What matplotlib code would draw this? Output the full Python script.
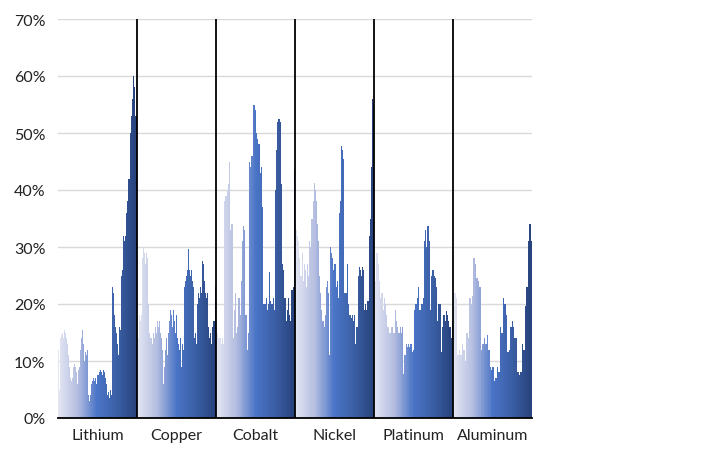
import numpy as np
import matplotlib
matplotlib.use("Agg")
import matplotlib.pyplot as plt
from matplotlib.colors import LinearSegmentedColormap

categories = ["Lithium", "Copper", "Cobalt", "Nickel", "Platinum", "Aluminum"]

lithium = [12, 5, 14, 14.5, 15, 14, 15.5, 15, 14, 13, 11, 9, 7, 6.5, 7, 9, 9.5, 9, 8, 6,
           8.5, 9, 12, 14, 15.5, 13, 10, 11.5, 11, 12, 4, 3, 4, 6, 6.5, 7, 6.5, 7, 6, 7.5,
           8, 8.5, 8, 7.5, 8.5, 8, 7, 6, 4, 4.5, 3.5, 5, 4, 23, 22, 18, 16, 15, 13, 11,
           16, 15.5, 25, 26, 32, 31, 32, 36, 38, 42, 42, 50, 53, 56, 60, 58, 53, 53]
copper = [15, 14, 18, 17, 18, 28, 30, 29, 27, 29, 28, 20, 15, 14, 14, 13, 15, 14, 16, 15,
          17, 16, 17, 15, 14, 12, 6, 9, 12, 14, 11, 15, 17, 19, 18, 16, 19, 17, 15, 18,
          14, 13, 12, 14, 9, 13, 12, 23, 24, 25, 26, 29.6, 26, 25, 26, 24, 23, 14, 15, 13,
          20, 22, 21, 23, 22, 27.5, 27, 24, 22, 21, 22, 16, 14, 15, 13, 16, 17, 17, 23]
cobalt = [18, 15, 14, 14, 13, 14, 13, 38, 39, 40, 41, 45, 33, 34, 14, 19, 22, 15, 16, 21,
          18, 24, 31, 33.6, 33, 18, 12, 15, 45, 44, 46, 55, 55, 54, 50, 49, 48, 43, 44, 37,
          20, 20, 21, 19, 20, 25.6, 20.5, 20, 21, 19, 40, 47, 52, 52.5, 52, 41, 27, 26, 21, 17,
          19, 21, 18, 17, 22.5, 23, 43.6]
nickel = [34, 33, 32, 31, 28, 25, 29, 24, 27, 26, 23, 27, 25, 31, 30, 35, 38, 41.3, 40, 38,
          34, 31, 25, 22, 19, 17, 16, 18, 23, 24, 22, 11, 30, 29, 28, 26, 27, 23, 24, 21,
          36, 38, 47.7, 47, 45.5, 22, 22, 27, 20, 18, 18, 17.5, 18, 17, 18, 13, 16, 25, 26.5, 26,
          25, 26.5, 26, 19, 20, 19, 20.5, 32, 35, 44, 56, 55]
platinum = [23, 24, 29, 27, 24, 21, 22, 19, 21, 20, 18, 16, 15, 15, 16, 16, 15, 19, 17, 16,
            15, 16, 15, 16, 7.7, 11, 13, 12.5, 13, 12.5, 13, 11.5, 12, 19, 20, 21, 23, 19, 19, 20,
            21, 31, 33, 30, 33.7, 31, 19, 25, 26, 25, 24.6, 23, 17, 20, 20, 11.5, 16, 18, 17, 18.7,
            18, 17, 16, 14, 17]
aluminum = [21, 22, 21, 11, 12, 11, 13, 12, 10, 15, 14, 21, 20, 21.4, 28, 27, 24.6, 24, 23, 12,
            13, 14, 13, 14.6, 12, 9, 8.5, 9, 6.5, 7, 9, 8, 16, 15, 21, 20, 18, 11.5, 12, 16,
            17, 16, 14, 14, 8, 7.5, 8, 13, 12, 19.7, 23, 31, 34, 31]

series = [lithium, copper, cobalt, nickel, platinum, aluminum]
yticks = [0, 10, 20, 30, 40, 50, 60, 70]

cmap = LinearSegmentedColormap.from_list(
    "grad", [(0.0, "#e2e5f2"), (0.25, "#b4bde0"), (0.5, "#4a74c6"),
             (0.75, "#3b5fa5"), (1.0, "#27427c")])

fig = plt.figure(figsize=(7.27, 4.56), dpi=100)
ax = fig.add_axes([58/727, 1-419/456, (532-58)/727, (419-20)/456])

font = "Lato"
for g, vals in enumerate(series):
    n = len(vals)
    w = 1.0 / n
    xs = g + (np.arange(n) + 0.5) * w
    cols = [cmap(i / (n - 1)) for i in range(n)]
    ax.bar(xs, vals, width=w * 1.02, color=cols, linewidth=0, zorder=2)

for g in range(1, len(categories)):
    ax.plot([g, g], [0, 70], color="black", lw=1.3, zorder=3)

ax.set_xlim(0, len(categories))
ax.set_ylim(0, 70)
ax.set_yticks(yticks)
ax.set_yticklabels([f"{t}%" for t in yticks], fontsize=11.5, family=font, color="#222222")
ax.set_xticks(np.arange(len(categories)) + 0.5)
ax.set_xticklabels(categories, fontsize=11.5, family=font, color="#222222")
ax.tick_params(length=0)
ax.tick_params(axis="x", pad=7)
ax.tick_params(axis="y", pad=9)
ax.yaxis.grid(True, color="#d9d9d9", lw=1, zorder=0)
ax.set_axisbelow(True)
for s in ["left", "right", "top"]:
    ax.spines[s].set_visible(False)
ax.spines["bottom"].set_color("black")
ax.spines["bottom"].set_linewidth(1.3)
ax.spines["bottom"].set_zorder(4)

fig.savefig("out.png", dpi=100)
